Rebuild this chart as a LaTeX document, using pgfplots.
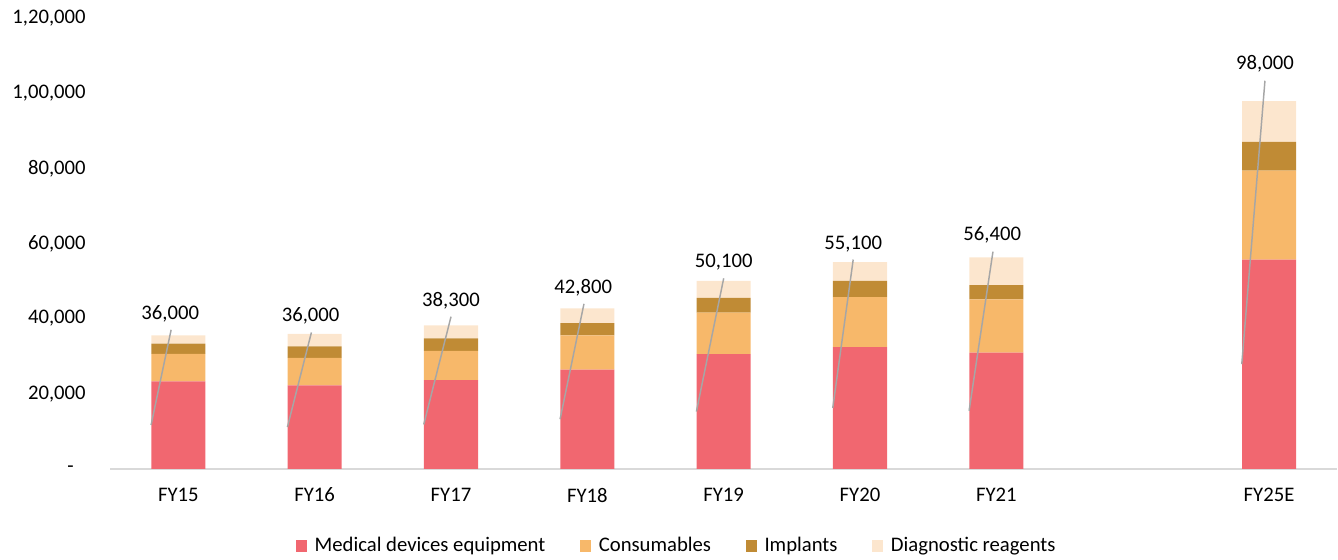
\documentclass[border=0pt]{standalone}
\usepackage{fontspec}
\setmainfont{Carlito}
\usepackage{pgfplots}
\usepackage{pgfplotstable}
\pgfplotsset{compat=1.18}
\definecolor{med}{RGB}{241,103,112}
\definecolor{con}{RGB}{247,184,106}
\definecolor{imp}{RGB}{192,139,53}
\definecolor{dia}{RGB}{252,230,206}
\definecolor{lead}{RGB}{166,166,166}
\definecolor{axl}{RGB}{217,217,217}

\pgfplotstableread{
x   med   con   imp   dia
0   23300 7300  2700  2200
1   22200 7300  3100  3300
2   23600 7800  3300  3500
3   26400 9100  3300  3900
4   30500 11100 3900  4500
5   32400 13300 4300  5000
6   30900 14200 3800  7400
8   55700 23700 7600  10900
}\bars

\pgfplotstableread{
x      y      lab
-0.06  41300  36,000
0.97   40800  36,000
2.0    44800  38,300
2.97   48300  42,800
4.0    55000  50,100
4.95   59900  55,100
5.97   62300  56,400
7.97   107700 98,000
}\labels

\begin{document}
\fontsize{15.5}{18}\selectfont
\begin{tikzpicture}
\pgfplotsset{
  common/.style={width=918.75pt, height=337.5pt, scale only axis,
    xmin=-0.5, xmax=8.5, ymin=0, ymax=120000, clip=false},
}
\begin{axis}[common, ybar stacked, bar width=40.5pt,
  axis x line*=bottom, axis y line*=left,
  x axis line style={axl, line width=1.2pt, -},
  y axis line style={draw=none},
  scaled y ticks=false,
  xtick={0,1,2,3,4,5,6,8},
  xticklabels={FY15,FY16,FY17,FY18,FY19,FY20,FY21,FY25E},
  ytick={0,20000,40000,60000,80000,100000,120000},
  yticklabels={{-\kern9pt},{20,000},{40,000},{60,000},{80,000},{1,00,000},{1,20,000}},
  major tick length=0pt,
  tick style={draw=none},
  xticklabel style={yshift=-9pt},
  yticklabel style={xshift=-13pt},
  legend style={at={(0.462,-0.171)}, anchor=center, draw=none, fill=none,
    legend columns=4, font=\fontsize{15.5}{18}\selectfont,
    /tikz/every even column/.append style={column sep=24pt}},
  legend image code/.code={\fill[#1] (0pt,-4.3pt) rectangle (8.3pt,4.3pt); \path (12pt,0pt);},
]
\addplot[fill=med, draw=none] table[x=x, y=med] {\bars};
\addplot[fill=con, draw=none] table[x=x, y=con] {\bars};
\addplot[fill=imp, draw=none] table[x=x, y=imp] {\bars};
\addplot[fill=dia, draw=none] table[x=x, y=dia] {\bars};
\legend{Medical devices equipment, Consumables, Implants, Diagnostic reagents}
\path (rel axis cs:0,0) -- ++(-82.5pt,0pt);
\path (rel axis cs:0,1) -- ++(0pt,13.5pt);
\end{axis}
\begin{axis}[common, hide axis]
\addplot[lead, line width=1.1pt] coordinates {(-0.2,11650) (-0.053,37000)};
\addplot[lead, line width=1.1pt] coordinates {(0.8,11100) (0.976,36300)};
\addplot[lead, line width=1.1pt] coordinates {(1.8,11800) (2.0,40500)};
\addplot[lead, line width=1.1pt] coordinates {(2.8,13200) (2.975,43900)};
\addplot[lead, line width=1.1pt] coordinates {(3.8,15250) (4.0,50700)};
\addplot[lead, line width=1.1pt] coordinates {(4.8,16200) (4.95,55700)};
\addplot[lead, line width=1.1pt] coordinates {(5.8,15450) (5.975,57800)};
\addplot[lead, line width=1.1pt] coordinates {(7.8,27850) (7.97,103300)};
\addplot[only marks, mark=*, mark size=0pt, mark options={draw=white, fill=white, line width=0pt},
  nodes near coords, point meta=explicit symbolic,
  nodes near coords style={anchor=center, text=black, font=\fontsize{15.5}{18}\selectfont}]
  table[x=x, y=y, meta=lab] {\labels};
\end{axis}
\end{tikzpicture}
\end{document}
